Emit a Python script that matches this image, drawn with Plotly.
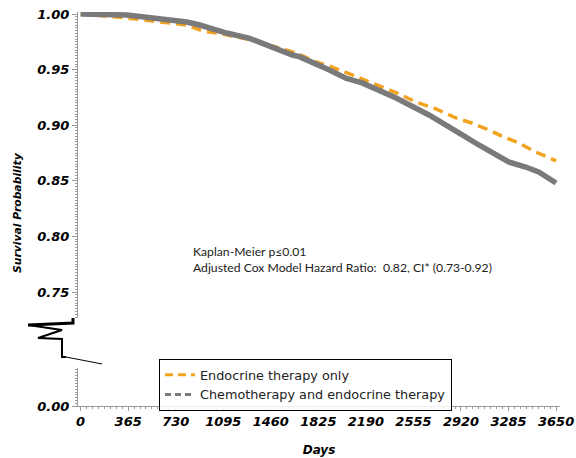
import plotly.graph_objects as go

# ---- data ----
days_endo = [0, 356, 815, 937, 1090, 1300, 1656, 1809, 1932, 2047, 2192, 2314, 2444,
             2575, 2728, 2881, 3003, 3133, 3248, 3363, 3493, 3650]
surv_endo = [1.000, 0.9964, 0.9901, 0.9847, 0.9820, 0.9770, 0.9649, 0.9568, 0.9523, 0.9469,
             0.9397, 0.9344, 0.9281, 0.9209, 0.9146, 0.9065, 0.9020, 0.8957, 0.8894,
             0.8840, 0.8759, 0.8680]

days_chemo = [0, 356, 815, 914, 1121, 1297, 1626, 1679, 1909, 2037, 2161, 2422, 2674,
              2827, 2904, 3057, 3210, 3286, 3416, 3516, 3650]
surv_chemo = [1.000, 0.9991, 0.9928, 0.9901, 0.9829, 0.9781, 0.9631, 0.9616, 0.9496, 0.9422,
              0.9380, 0.9245, 0.9092, 0.8975, 0.8930, 0.8822, 0.8714, 0.8669, 0.8624,
              0.8579, 0.8480]

x_ticks = [0, 365, 730, 1095, 1460, 1825, 2190, 2555, 2920, 3285, 3650]
y_ticks_top = [0.75, 0.80, 0.85, 0.90, 0.95, 1.00]
y_ticks_bottom = [0.00]

series_names = ["Endocrine therapy only", "Chemotherapy and endocrine therapy"]
annotation_lines = ["Kaplan-Meier p\u22640.01",
                    "Adjusted Cox Model Hazard Ratio:  0.82, CI* (0.73-0.92)"]

# ---- layout geometry (body margin removed by post_script, so no offset) ----
W, H = 576, 458
LEFT, RIGHT, TOP, BOTTOM = 78, 560, 12, 406          # plot area in page pixels
ML, MR, MT, MB = LEFT, W - RIGHT, TOP, H - BOTTOM
PW, PH = W - ML - MR, H - MT - MB


def px(x, y):
    return (x - LEFT) / PW, (BOTTOM - y) / PH


ORANGE = "#F2A21E"
GRAY = "#7A7A7A"
AXC = "#9a9a9a"
tickfont = dict(family="DejaVu Sans", size=13, color="black", weight="bold", style="italic")

fig = go.Figure()
fig.add_trace(go.Scatter(x=days_endo, y=surv_endo, mode="lines", name=series_names[0],
                         line=dict(color=ORANGE, width=3.5, dash="10px,6px"),
                         xaxis="x2", yaxis="y2", showlegend=False))
fig.add_trace(go.Scatter(x=days_chemo, y=surv_chemo, mode="lines", name=series_names[1],
                         line=dict(color=GRAY, width=5.5),
                         xaxis="x2", yaxis="y2", showlegend=False))
# legend entries
fig.add_trace(go.Scatter(x=[None], y=[None], mode="lines", name=series_names[0],
                         line=dict(color=ORANGE, width=3, dash="8px,5px")))
fig.add_trace(go.Scatter(x=[None], y=[None], mode="lines", name=series_names[1],
                         line=dict(color=GRAY, width=3, dash="6px,4px")))

top_lo = 1 - (318 - 14) / 1112
top_hi = 1 + (14 - TOP) / 1112
bot_hi = (BOTTOM - 368) / 1112

common_y = dict(showline=True, linecolor=AXC, linewidth=1, ticks="outside", ticklen=5,
                tickcolor=AXC, showgrid=False, zeroline=False, tickfont=tickfont,
                tickformat=".2f", automargin=False, ticklabeloverflow="allow",
                minor=dict(dtick=0.0025, ticks="outside", ticklen=2, tickcolor=AXC))

fig.update_layout(
    width=W, height=H,
    margin=dict(l=ML, r=MR, t=MT, b=MB, autoexpand=False),
    paper_bgcolor="white", plot_bgcolor="white",
    xaxis=dict(range=[-20, 3680], anchor="y", tickvals=x_ticks, showline=True,
               linecolor=AXC, linewidth=1, ticks="outside", ticklen=4, tickcolor=AXC,
               showgrid=False, zeroline=False, tickfont=tickfont, automargin=False,
               ticklabelstandoff=-1, ticklabeloverflow="allow",
               minor=dict(dtick=45.625, tick0=0, ticks="outside", ticklen=2, tickcolor=AXC),
               title=dict(text="Days", font=dict(family="DejaVu Sans", size=12, color="black",
                                                 weight="bold", style="italic"), standoff=18)),
    xaxis2=dict(range=[-20, 3680], anchor="y2", matches="x", visible=False),
    yaxis=dict(domain=[0, (BOTTOM - 368) / PH], range=[0, bot_hi], tickvals=y_ticks_bottom,
               **common_y),
    yaxis2=dict(domain=[(BOTTOM - 318) / PH, 1], range=[top_lo, top_hi], tickvals=y_ticks_top,
                anchor="x2", **common_y),
    legend=dict(x=px(159, 0)[0], y=px(0, 359)[1], xanchor="left", yanchor="top",
                bordercolor="black", borderwidth=1, bgcolor="rgba(255,255,255,0.85)",
                font=dict(family="DejaVu Sans", size=12.8, color="#222"),
                tracegroupgap=0, itemwidth=30),
    showlegend=True,
)

# y title
fig.add_annotation(text="Survival Probability", xref="paper", yref="paper",
                   x=px(17, 0)[0], y=px(0, 213)[1], xanchor="center", yanchor="middle",
                   textangle=-90, showarrow=False,
                   font=dict(family="DejaVu Sans", size=10.8, color="black", weight="bold",
                             style="italic"))

# stats annotation
fig.add_annotation(text="<br>".join(annotation_lines), xref="paper", yref="paper",
                   x=px(191, 0)[0], y=px(0, 259)[1], xanchor="left", yanchor="middle",
                   align="left", showarrow=False,
                   font=dict(family="Lato", size=12.2, color="#222"))


# axis break symbol (decoration)
def path(pts):
    s = ""
    for i, (a, b) in enumerate(pts):
        u, v = px(a, b)
        s += ("M" if i == 0 else "L") + f"{u:.4f},{v:.4f} "
    return s


fig.add_shape(type="path", xref="paper", yref="paper",
              path=path([(28, 325), (73, 323), (73, 318)]),
              line=dict(color="black", width=3))
fig.add_shape(type="path", xref="paper", yref="paper",
              path=path([(28, 325), (62, 330), (38, 338), (62, 339), (62, 357), (66, 357)]),
              line=dict(color="black", width=2))
fig.add_shape(type="path", xref="paper", yref="paper",
              path=path([(66, 357), (102, 364)]),
              line=dict(color="black", width=1))

fig.write_html("out.html", config={"displayModeBar": False},
               post_script="document.body.style.margin='0px';"
                           "document.body.style.overflow='hidden';")
